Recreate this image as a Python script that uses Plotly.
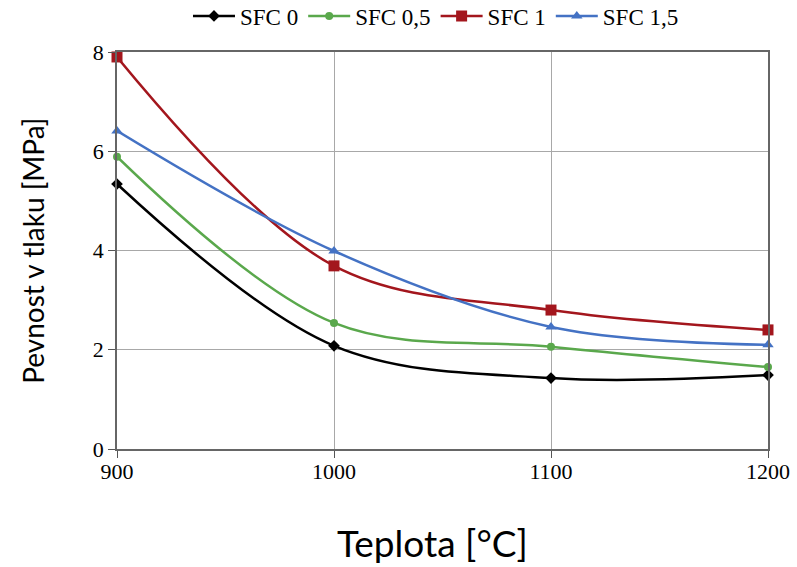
import plotly.graph_objects as go

temps = [900, 1000, 1100, 1200]
sfc0 = [5.34, 2.08, 1.43, 1.49]
sfc05 = [5.89, 2.54, 2.06, 1.65]
sfc1 = [7.90, 3.69, 2.80, 2.40]
sfc15 = [6.41, 3.99, 2.46, 2.10]
names = ["SFC 0", "SFC 0,5", "SFC 1", "SFC 1,5"]
x_title = "Teplota [°C]"
y_title = "Pevnost v tlaku [MPa]"

series = [
    (names[0], sfc0, "#000000", "diamond", 9),
    (names[1], sfc05, "#5aa84c", "circle", 8),
    (names[2], sfc1, "#a3161d", "square", 11),
    (names[3], sfc15, "#4472c4", "triangle-up", 10),
]

fig = go.Figure()
for name, vals, col, sym, sz in series:
    fig.add_trace(go.Scatter(
        x=temps, y=vals, name=name, mode="lines+markers",
        line=dict(color=col, width=2.5, shape="spline", smoothing=1.0),
        marker=dict(symbol=sym, size=sz, color=col),
        cliponaxis=False,
    ))

fig.update_layout(
    width=797, height=567,
    margin=dict(l=117, r=29, t=52, b=118, autoexpand=False),
    paper_bgcolor="white", plot_bgcolor="white",
    font=dict(family="Liberation Serif", color="black", size=21),
    legend=dict(orientation="h", x=0.49, xanchor="center", y=1.145, yanchor="top",
                font=dict(family="Liberation Serif", size=23, color="black"),
                itemwidth=42, bgcolor="rgba(0,0,0,0)"),
    showlegend=True,
    annotations=[
        dict(text=x_title, xref="paper", yref="paper", x=0.484, y=-0.236,
             xanchor="center", yanchor="middle", showarrow=False,
             font=dict(family="Lato", size=37, color="black")),
        dict(text=y_title, xref="paper", yref="paper", x=-0.13, y=0.50,
             xanchor="center", yanchor="middle", showarrow=False, textangle=-90,
             font=dict(family="Lato", size=28, color="black")),
    ],
)

fig.update_xaxes(
    range=[900, 1200], tickvals=temps, ticks="outside", ticklen=7, tickcolor="#555",
    showgrid=True, gridcolor="#a8a8a8", gridwidth=1,
    showline=True, linecolor="#666", linewidth=1.5, mirror=True,
    tickfont=dict(family="Liberation Serif", size=22, color="black"),
    ticklabelstandoff=-5,
    zeroline=False, automargin=False,
)
fig.update_yaxes(
    range=[0, 8], tickvals=[0, 2, 4, 6, 8], ticks="outside", ticklen=7, tickcolor="#555",
    showgrid=True, gridcolor="#a8a8a8", gridwidth=1,
    showline=True, linecolor="#666", linewidth=1.5, mirror=True,
    tickfont=dict(family="Liberation Serif", size=22, color="black"),
    zeroline=False, automargin=False,
)

fig.write_html("out.html", config={"displayModeBar": False},
               post_script="document.body.style.margin='0px';")
